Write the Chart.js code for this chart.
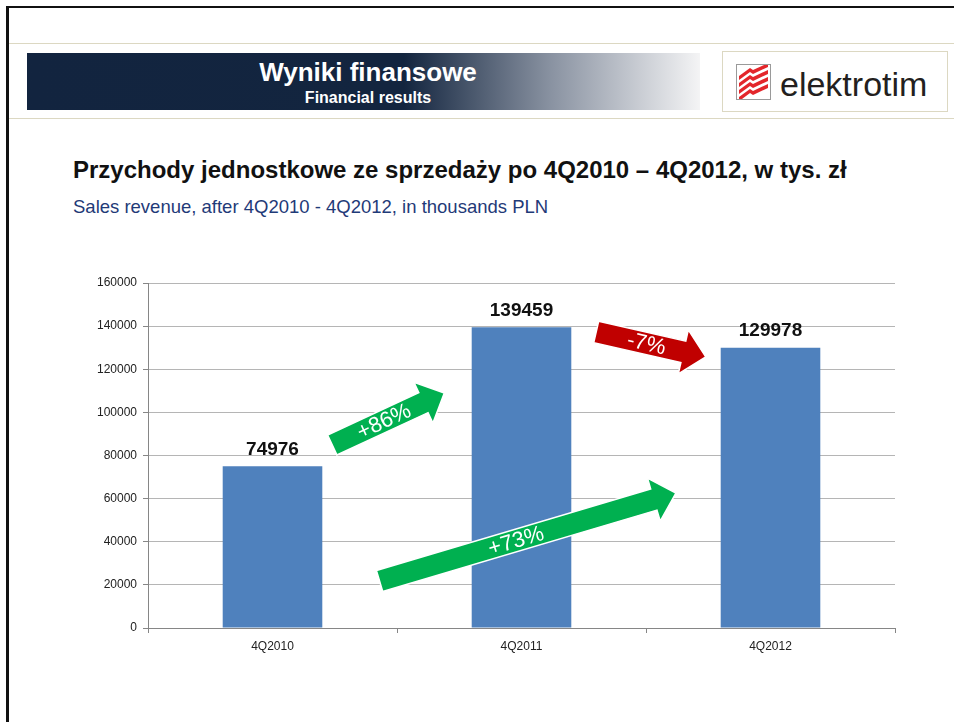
<!DOCTYPE html>
<html>
<head>
<meta charset="utf-8">
<script src="https://cdn.jsdelivr.net/npm/chart.js@4.4.1/dist/chart.umd.min.js"></script>
<style>
  html, body { margin: 0; padding: 0; background: #fff; }
  body { width: 954px; height: 722px; position: relative; overflow: hidden; font-family: "Liberation Sans", Arial, sans-serif; }
  .frame { position: absolute; left: 6px; top: 6px; right: -10px; bottom: -10px; border-left: 3px solid #111; border-top: 2px solid #111; }
  .rule { position: absolute; left: 9px; right: 0; height: 1px; background: #dcd8c2; }
  .banner { position: absolute; left: 27px; top: 53px; width: 673px; height: 57px;
    background: linear-gradient(to right, #12243f 0%, #13253f 56%, #8a93a2 78%, #f4f4f5 100%); }
  .banner .t1 { position: absolute; left: 0; width: 682px; top: 6px; text-align: center; color: #fff; font-weight: bold; font-size: 26px; line-height: 26px; }
  .banner .t2 { position: absolute; left: 0; width: 682px; top: 37px; text-align: center; color: #fff; font-weight: bold; font-size: 16px; line-height: 16px; }
  .logo { position: absolute; left: 722px; top: 51px; width: 224px; height: 59px; border: 1px solid #dcd8c2; background: #fff; }
  .logo svg { position: absolute; left: 13px; top: 12px; }
  .logo .name { position: absolute; left: 57px; top: 15px; font-size: 34px; line-height: 34px; color: #231f20; }
  .title { position: absolute; left: 73px; top: 158px; font-size: 24px; line-height: 24px; font-weight: bold; color: #111; white-space: nowrap; }
  .subtitle { position: absolute; left: 73px; top: 198px; font-size: 18.5px; line-height: 18.5px; color: #1f3a78; white-space: nowrap; }
  #wrap { position: absolute; left: 0; top: 240px; width: 954px; height: 440px; }
</style>
</head>
<body>
<div class="frame"></div>
<div class="rule" style="top:43px"></div>
<div class="rule" style="top:118px"></div>
<div class="banner">
  <div class="t1">Wyniki finansowe</div>
  <div class="t2">Financial results</div>
</div>
<div class="logo">
  <svg width="35" height="36" viewBox="0 0 35 36">
    <rect x="0.5" y="0.5" width="34" height="35" fill="#fff" stroke="#9a9a9a"/>
    <g fill="#e3262b">
      <polygon points="3,12 14,4 17,6 28,1 32,1 32,3 17,10 14,8 3,16"/>
      <polygon points="3,19 14,11 17,13 32,6 32,10 17,17 14,15 3,23"/>
      <polygon points="3,26 14,18 17,20 32,13 32,17 17,24 14,22 3,30"/>
      <polygon points="3,33 14,25 17,27 32,20 32,24 17,31 14,29 6,35 3,35"/>
    </g>
  </svg>
  <div class="name">elektrotim</div>
</div>
<div class="title">Przychody jednostkowe ze sprzedaży po 4Q2010 – 4Q2012, w tys. zł</div>
<div class="subtitle">Sales revenue, after 4Q2010 - 4Q2012, in thousands PLN</div>
<div id="wrap"><canvas id="salesChart"></canvas></div>

<script>
const quarters = ['4Q2010', '4Q2011', '4Q2012'];
const revenue = [74976, 139459, 129978];
const yTicks = [0, 20000, 40000, 60000, 80000, 100000, 120000, 140000, 160000];

// change arrows: tail and tip as [category index, value]
const arrowLabels = ['+86%', '+73%', '-7%'];
const arrowTail = [[0.24, 84900], [0.43, 21800], [1.30, 137300]];
const arrowTip = [[0.69, 109000], [1.62, 62600], [1.74, 125700]];
const arrowColors = ['#00B050', '#00B050', '#C00000'];

const barLabels = {
    id: 'barLabels',
    afterDatasetsDraw(chart) {
        const ctx = chart.ctx;
        const x = chart.scales.x;
        const y = chart.scales.y;
        const x0 = x.getPixelForValue(0);
        const step = x.getPixelForValue(1) - x0;

        // value labels above bars
        const meta = chart.getDatasetMeta(0);
        ctx.save();
        ctx.font = 'bold 19px "Liberation Sans", Arial, sans-serif';
        ctx.fillStyle = '#111';
        ctx.textAlign = 'center';
        ctx.textBaseline = 'middle';
        meta.data.forEach((bar, i) => {
            ctx.fillText(String(revenue[i]), bar.x, bar.y - 17);
        });
        ctx.restore();

        // arrows
        arrowLabels.forEach((label, i) => {
            const tx = x0 + arrowTail[i][0] * step, ty = y.getPixelForValue(arrowTail[i][1]);
            const px = x0 + arrowTip[i][0] * step, py = y.getPixelForValue(arrowTip[i][1]);
            const len = Math.hypot(px - tx, py - ty);
            const ang = Math.atan2(py - ty, px - tx);
            const shaft = 11, head = 22.5, headLen = 23;
            ctx.save();
            ctx.translate(tx, ty);
            ctx.rotate(ang);
            ctx.beginPath();
            ctx.moveTo(0, -shaft);
            ctx.lineTo(len - headLen, -shaft);
            ctx.lineTo(len - headLen, -head);
            ctx.lineTo(len, 0);
            ctx.lineTo(len - headLen, head);
            ctx.lineTo(len - headLen, shaft);
            ctx.lineTo(0, shaft);
            ctx.closePath();
            ctx.fillStyle = arrowColors[i];
            ctx.strokeStyle = '#fff';
            ctx.lineWidth = 1.5;
            ctx.fill();
            ctx.stroke();
            ctx.fillStyle = '#fff';
            ctx.font = '22px "Liberation Sans", Arial, sans-serif';
            ctx.textAlign = 'center';
            ctx.textBaseline = 'middle';
            ctx.fillText(label, len * 0.46, 1);
            ctx.restore();
        });
    }
};

new Chart(document.getElementById('salesChart'), {
    type: 'bar',
    data: {
        labels: quarters,
        datasets: [{
            data: revenue,
            backgroundColor: '#4F81BD',
            borderWidth: 0,
            barPercentage: 0.4,
            categoryPercentage: 1
        }]
    },
    options: {
        responsive: true,
        maintainAspectRatio: false,
        animation: false,
        layout: { padding: { left: 60, right: 59, top: 43, bottom: 22 } },
        plugins: {
            legend: { display: false },
            tooltip: { enabled: false }
        },
        scales: {
            x: {
                afterFit: (scale) => { scale.height = 30; },
                grid: { drawOnChartArea: false, drawTicks: true, tickLength: 5, color: '#868686', offset: true },
                border: { color: '#868686', width: 1 },
                ticks: { color: '#222', padding: 6, font: { size: 12, family: '"Liberation Sans", Arial, sans-serif' } }
            },
            y: {
                min: 0,
                max: 160000,
                afterFit: (scale) => { scale.width = 88; },
                afterBuildTicks: (scale) => { scale.ticks = yTicks.map(v => ({ value: v })); },
                grid: { color: '#b5b5b5', tickLength: 5, tickColor: '#868686' },
                border: { color: '#868686', width: 1 },
                ticks: {
                    color: '#222',
                    padding: 6,
                    font: { size: 12, family: '"Liberation Sans", Arial, sans-serif' },
                    callback: (v) => String(v)
                }
            }
        }
    },
    plugins: [barLabels]
});
</script>
</body>
</html>
